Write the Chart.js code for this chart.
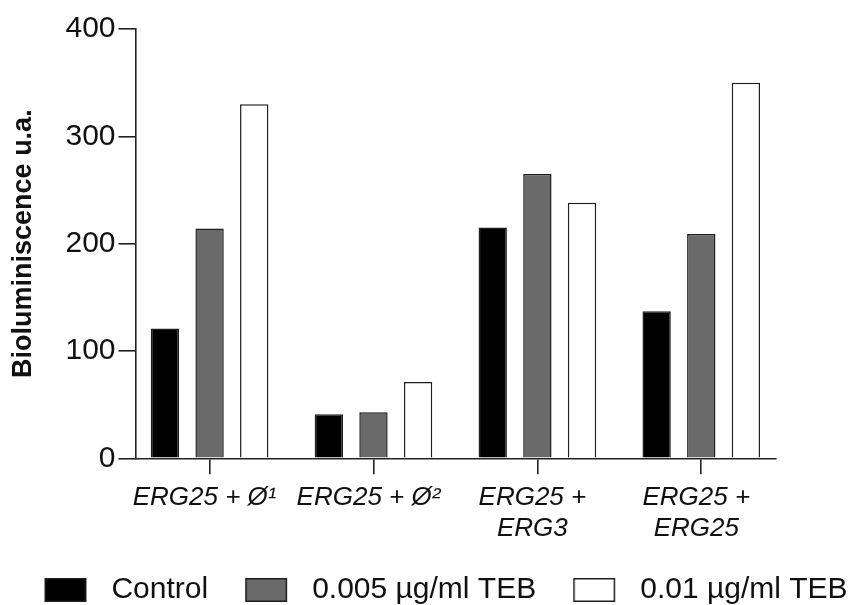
<!DOCTYPE html>
<html><head><meta charset="utf-8">
<script src="https://cdn.jsdelivr.net/npm/chart.js@4.4.1/dist/chart.umd.min.js"></script>
<style>html,body{margin:0;padding:0;background:#fff}canvas{display:block}</style>
</head><body>
<canvas id="c" width="855" height="605"></canvas>
<script>
// ---- data ----
const categories = [["ERG25 + Ø¹"], ["ERG25 + Ø²"], ["ERG25 +", "ERG3"], ["ERG25 +", "ERG25"]];
const seriesNames = ["Control", "0.005 µg/ml TEB", "0.01 µg/ml TEB"];
const controlValues = [121, 41, 215, 137];
const teb005Values = [214, 43, 265, 209];
const teb01Values = [330, 71, 238, 350];
const yTicks = [0, 100, 200, 300, 400];
const yTitle = "Bioluminiscence u.a.";

// ---- styles ----
const fills = ["#000000", "#6a6a6a", "#ffffff"];
const edge = "#1e1e1e";
const axisColor = "#222222";

Chart.defaults.font.family = "'Liberation Sans', Arial, Helvetica, sans-serif";
Chart.defaults.color = "#000";

function makeMarker(fill) {
  const c = document.createElement('canvas');
  c.width = 89; c.height = 24;
  const g = c.getContext('2d');
  g.fillStyle = fill;
  g.fillRect(37.75, 0.75, 40.5, 22.5);
  g.strokeStyle = edge; g.lineWidth = 1.5;
  g.strokeRect(37.75, 0.75, 40.5, 22.5);
  return c;
}
const markers = fills.map(makeMarker);

const seriesValues = [controlValues, teb005Values, teb01Values];
const datasets = seriesValues.map((vals, k) => ({
  label: seriesNames[k],
  data: vals.map((v, i) => ({ x: i, y: v })),
  backgroundColor: fills[k],
  borderColor: edge,
  borderWidth: 1.5,
  categoryPercentage: 0.817,
  barPercentage: 0.635
}));

new Chart(document.getElementById('c'), {
  type: 'bar',
  data: { datasets },
  options: {
    responsive: false,
    animation: false,
    devicePixelRatio: 1,
    layout: { padding: { top: 29, left: 0, right: 0, bottom: -10 } },
    plugins: {
      tooltip: { enabled: false },
      legend: {
        position: 'bottom',
        labels: {
          font: { size: 30 },
          color: '#111',
          usePointStyle: true,
          pointStyleWidth: 89,
          padding: 0,
          generateLabels: (chart) =>
            Chart.defaults.plugins.legend.labels.generateLabels(chart).map((l, i) => ({ ...l, pointStyle: markers[i] }))
        }
      }
    },
    scales: {
      x: {
        type: 'linear',
        min: -0.452,
        max: 3.456,
        offset: false,
        afterBuildTicks: (s) => { s.ticks = categories.map((_, i) => ({ value: i })); },
        afterFit: (s) => { s.height = 116.7; },
        grid: { offset: false, drawOnChartArea: false, drawTicks: true, tickLength: 16, color: axisColor, lineWidth: 1.6 },
        border: { display: true, color: axisColor, width: 1.6 },
        ticks: {
          autoSkip: false, maxRotation: 0, minRotation: 0,
          padding: 8, labelOffset: -5,
          font: { size: 26, style: 'italic' },
          color: '#111',
          callback: (value) => categories[Math.round(value)]
        }
      },
      y: {
        type: 'linear',
        position: 'left',
        min: 0, max: 400,
        afterBuildTicks: (s) => { s.ticks = yTicks.map(v => ({ value: v })); },
        afterFit: (s) => { s.width = 135.5; },
        grid: { drawOnChartArea: false, drawTicks: true, tickLength: 17, color: axisColor, lineWidth: 1.6 },
        border: { display: true, color: axisColor, width: 1.6 },
        ticks: { padding: 3, font: { size: 30 }, color: '#111' },
        title: { display: true, text: yTitle, font: { size: 27, weight: 'bold' }, color: '#111', padding: { top: 7, bottom: 0 } }
      },
      yr: {
        type: 'linear',
        position: 'right',
        display: true,
        grid: { display: false },
        border: { display: false },
        ticks: { display: false },
        afterFit: (s) => { s.width = 79; }
      }
    }
  }
});
</script>
</body></html>
